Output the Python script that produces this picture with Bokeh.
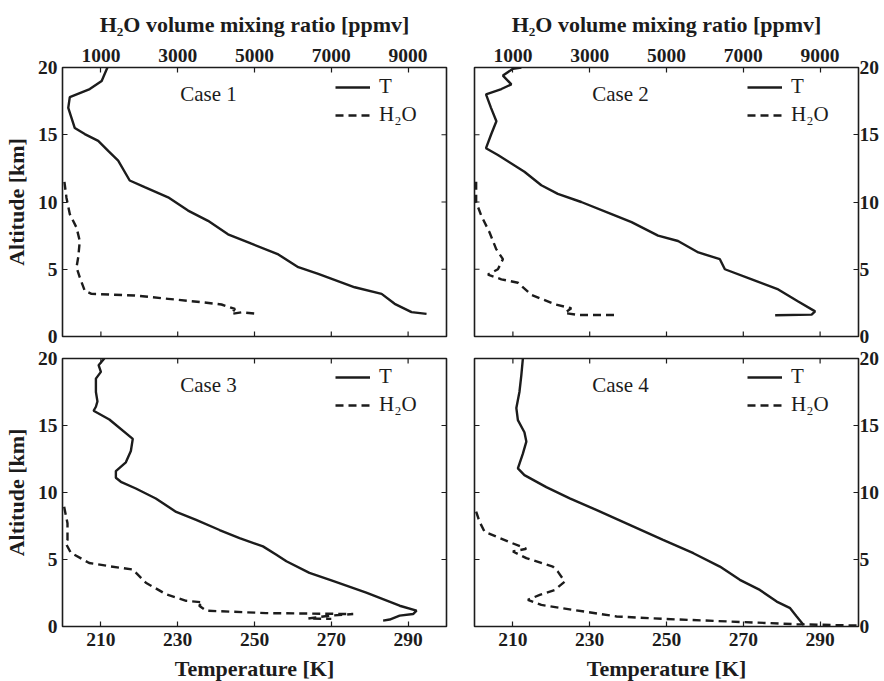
import math
from bokeh.plotting import figure
from bokeh.models import Range1d, LinearAxis, FixedTicker, Legend, LegendItem, Label
from bokeh.layouts import column, row
from bokeh.embed import file_html
from bokeh.resources import INLINE

FONT = "Liberation Serif"
INK = "#1c1c1c"

T_MIN, T_MAX = 200, 300
ALT_MIN, ALT_MAX = 0, 20
H2O_MIN, H2O_MAX = 0, 10000

alt_ticks = [0, 5, 10, 15, 20]
temp_ticks = [210, 230, 250, 270, 290]
h2o_ticks = [1000, 3000, 5000, 7000, 9000]
case_names = ["Case 1", "Case 2", "Case 3", "Case 4"]

# Case 1
t1 = [211.7, 210.2, 207.1, 201.9, 201.5, 202.3, 203.2, 205.8, 209.3, 211.9, 214.5, 217.5, 221.4,
      227.5, 232.7, 237.9, 243.1, 249.2, 256.2, 261.4, 266.6, 276.1, 283.1, 286.5, 290.9, 294.8]
t1_alt = [20.0, 19.0, 18.4, 17.8, 17.0, 16.3, 15.5, 15.05, 14.55, 13.8, 13.07, 11.6, 11.1,
          10.35, 9.36, 8.6, 7.6, 6.9, 6.1, 5.15, 4.65, 3.66, 3.17, 2.43, 1.81, 1.68]
w1 = [50, 104, 190, 365, 450, 410, 365, 450, 580, 755, 1880, 2750, 3620, 4140, 4490, 4400, 4660, 5090]
w1_alt = [11.5, 10.3, 9.1, 8.1, 7.1, 5.9, 5.15, 4.4, 3.4, 3.17, 3.05, 2.8, 2.55, 2.38, 2.05, 1.68, 1.8, 1.68]

# Case 2
t2 = [212.2, 210.0, 207.4, 209.6, 207.0, 203.0, 204.3, 205.7, 204.3, 203.0, 206.1, 213.0, 217.4, 221.7,
      227.8, 235.7, 240.9, 247.8, 253.0, 258.3, 263.9, 265.2, 272.2, 279.1, 284.3, 288.7, 287.8, 278.3]
t2_alt = [20.0, 19.9, 19.4, 18.75, 18.4, 18.0, 17.0, 16.0, 15.0, 14.0, 13.5, 12.25, 11.25, 10.6,
          10.0, 9.1, 8.5, 7.5, 7.1, 6.25, 5.75, 5.0, 4.25, 3.5, 2.6, 1.87, 1.63, 1.58]
w2 = [43, 43, 174, 390, 565, 740, 610, 350, 700, 1130, 1480, 2090, 2520, 2350, 2700, 3740]
w2_alt = [11.5, 10.0, 9.0, 7.75, 6.5, 5.75, 5.0, 4.6, 4.25, 4.0, 3.1, 2.4, 2.1, 1.75, 1.6, 1.6]

# Case 3
t3 = [210.9, 209.4, 210.0, 208.7, 208.7, 209.1, 208.7, 208.1, 212.2, 218.3, 217.8, 216.5, 213.9, 213.9,
      215.2, 219.1, 224.3, 229.6, 234.8, 240.9, 246.1, 252.2, 255.7, 258.3, 264.3, 270.4, 279.1, 287.8,
      292.2, 291.3, 287.8, 285.2, 283.5]
t3_alt = [20.0, 19.5, 19.0, 18.5, 17.5, 16.8, 16.4, 16.1, 15.45, 14.0, 13.1, 12.25, 11.6, 11.1,
          10.8, 10.3, 9.55, 8.55, 7.95, 7.2, 6.6, 5.98, 5.36, 4.87, 4.0, 3.4, 2.53, 1.55,
          1.18, 0.93, 0.81, 0.52, 0.44]
w3 = [43, 130, 130, 87, 217, 695, 1220, 1830, 2170, 2700, 3220, 3650, 3560, 3740, 5300, 7570, 6960, 6400, 7000]
w3_alt = [8.93, 7.7, 6.47, 6.2, 5.5, 4.74, 4.5, 4.25, 3.27, 2.4, 1.92, 1.8, 1.55, 1.18, 1.0, 0.93, 0.81, 0.6, 0.57]

# Case 4
t4 = [212.6, 212.2, 211.7, 210.9, 211.3, 213.0, 213.5, 212.6, 211.3, 213.0, 218.7, 224.8, 231.7,
      240.4, 249.1, 257.0, 263.9, 269.1, 274.3, 278.7, 282.2, 283.9, 285.7]
t4_alt = [20.0, 18.76, 17.5, 16.3, 15.4, 14.5, 13.8, 12.9, 11.8, 11.3, 10.4, 9.56, 8.7,
          7.58, 6.46, 5.47, 4.47, 3.48, 2.73, 1.86, 1.37, 0.75, 0.12]
w4 = [43, 130, 260, 913, 1350, 1000, 1350, 2040, 2170, 2350, 2090, 1700, 1390, 1740, 2570, 3700,
      4910, 6650, 8390, 9960]
w4_alt = [8.57, 7.83, 7.08, 6.3, 5.8, 5.6, 5.1, 4.47, 4.1, 3.35, 2.73, 2.36, 1.99, 1.61, 1.24, 0.75,
          0.57, 0.37, 0.17, 0.07]


def make_axis(ticks, label, standoff, label_standoff, range_name=None, label_lh=1.2):
    kw = {"x_range_name": range_name} if range_name else {}
    ax = LinearAxis(ticker=FixedTicker(ticks=ticks), **kw)
    ax.axis_line_color = None
    ax.major_tick_in = 5
    ax.major_tick_out = 0
    ax.major_tick_line_color = INK
    ax.major_tick_line_width = 1.2
    ax.minor_tick_line_color = None
    ax.major_label_text_font = FONT
    ax.major_label_text_font_style = "bold"
    ax.major_label_text_font_size = "19.5px"
    ax.major_label_text_color = INK
    ax.major_label_standoff = standoff
    if label:
        ax.axis_label = label
        ax.axis_label_text_font = FONT
        ax.axis_label_text_font_style = "bold"
        ax.axis_label_text_font_size = "22px"
        ax.axis_label_text_color = INK
        ax.axis_label_standoff = label_standoff
        ax.axis_label_text_line_height = label_lh
    return ax


def inner_ticks(p, positions, fixed, vertical_edge, angle):
    if vertical_edge:
        xs = [fixed] * len(positions)
        ys = positions
    else:
        xs = positions
        ys = [fixed] * len(positions)
    p.ray(x=xs, y=ys, length=5, length_units="screen", angle=angle,
          line_color=INK, line_width=1.2)


def panel(idx, t, t_alt, w, w_alt, is_left, is_top):
    p = figure(frame_width=384, frame_height=269 if is_top else 268,
               x_range=Range1d(T_MIN, T_MAX), y_range=Range1d(ALT_MIN, ALT_MAX),
               x_axis_location=None, y_axis_location=None,
               toolbar_location=None, output_backend="svg",
               min_border_left=61 if is_left else 14,
               min_border_right=14 if is_left else 24,
               min_border_top=67 if is_top else 11,
               min_border_bottom=11 if is_top else 55,
               background_fill_color="white", border_fill_color="white",
               outline_line_color=INK, outline_line_width=1.6)
    p.extra_x_ranges = {"h2o": Range1d(H2O_MIN, H2O_MAX)}
    p.grid.visible = False

    if is_top:
        p.add_layout(make_axis(h2o_ticks, "H\u2082O volume mixing ratio [ppmv]", 6, 9,
                               range_name="h2o"), "above")
        inner_ticks(p, temp_ticks, ALT_MIN, False, math.pi / 2)
    else:
        p.add_layout(make_axis(temp_ticks, "Temperature [K]", 6, 7, label_lh=0.8), "below")
        inner_ticks(p, temp_ticks, ALT_MAX, False, -math.pi / 2)
    if is_left:
        p.add_layout(make_axis(alt_ticks, "Altitude [km]", 5, 6), "left")
        inner_ticks(p, alt_ticks, T_MAX, True, math.pi)
    else:
        p.add_layout(make_axis(alt_ticks, None, 1, 0), "right")
        inner_ticks(p, alt_ticks, T_MIN, True, 0)

    rt = p.line(t, t_alt, line_color=INK, line_width=2.4)
    rw = p.line(w, w_alt, x_range_name="h2o", line_color=INK, line_width=2.4, line_dash="8 5")

    legend = Legend(items=[LegendItem(label="T", renderers=[rt]),
                           LegendItem(label="H\u2082O", renderers=[rw])],
                    location=(273, 209), margin=0, padding=5, spacing=3,
                    glyph_width=35, glyph_height=20, label_height=20, label_standoff=9,
                    border_line_color=None, background_fill_alpha=0,
                    label_text_font=FONT, label_text_font_size="21px", label_text_color=INK)
    p.add_layout(legend)

    p.add_layout(Label(x=238, y=18, text=case_names[idx], text_align="center",
                       text_baseline="middle", text_font=FONT, text_font_size="21px",
                       text_color=INK))
    return p


p1 = panel(0, t1, t1_alt, w1, w1_alt, True, True)
p2 = panel(1, t2, t2_alt, w2, w2_alt, False, True)
p3 = panel(2, t3, t3_alt, w3, w3_alt, True, False)
p4 = panel(3, t4, t4_alt, w4, w4_alt, False, False)

layout = column(row(p1, p2), row(p3, p4))

open("out.html", "w").write(file_html(layout, INLINE))
